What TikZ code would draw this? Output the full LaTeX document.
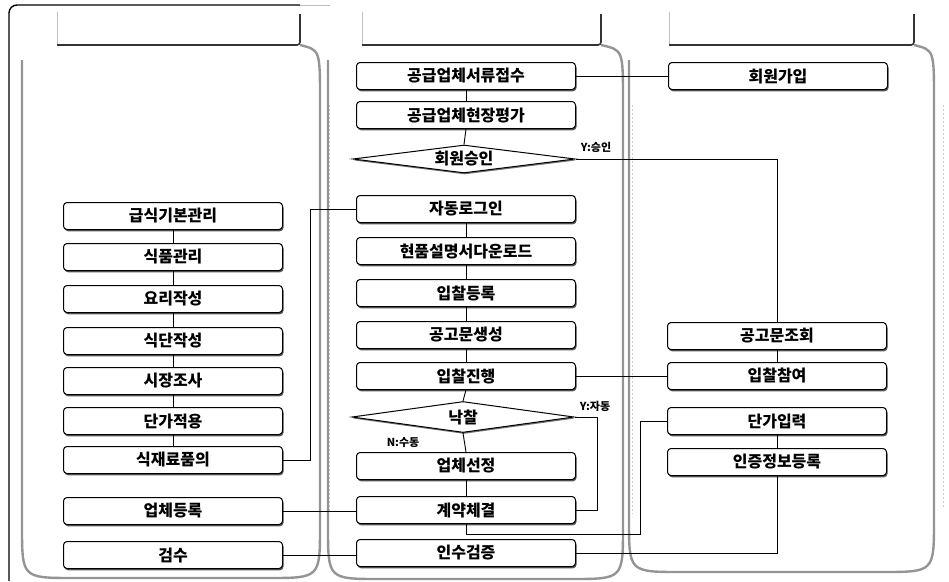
\documentclass[tikz,border=0pt]{standalone}
\usepackage{fontspec}
\setmainfont{Noto Sans CJK KR}
\usetikzlibrary{shapes.geometric,shadows}
\begin{document}
\begin{tikzpicture}[x=1pt,y=-1pt,
  box/.style={draw, line width=1pt, rounded corners=3.5pt, minimum width=219pt,
    minimum height=27pt, fill=white, inner sep=0pt,
    font=\fontsize{16}{17}\selectfont\bfseries,
    drop shadow={shadow xshift=1pt, shadow yshift=-1.8pt, fill=black!65, opacity=1}},
  dia/.style={diamond, draw, line width=1pt, fill=white, inner sep=0pt, aspect=8,
    minimum width=222pt, minimum height=28pt,
    font=\fontsize{16}{17}\selectfont\bfseries,
    drop shadow={shadow xshift=0.8pt, shadow yshift=-1.5pt, fill=black!55, opacity=1}},
  lbl/.style={font=\fontsize{11}{12}\selectfont\bfseries, inner sep=0pt},
  conn/.style={line width=0.9pt, black},
  lane/.style={draw=black!42, line width=2.4pt},
  laneinner/.style={draw=black!20, line width=0.5pt, dash pattern=on 2pt off 2pt},
  hdrfaint/.style={draw=black!25, line width=0.5pt},
  hdrdark/.style={draw=black!80, line width=1.6pt, rounded corners=3pt}
]
\useasboundingbox (0,0) rectangle (949,581);

% outer frame
\draw[line width=1.4pt, rounded corners=8pt] (300,5) -- (9,5) -- (9,581);
\draw[black!25, line width=0.6pt] (300,5) -- (330,5);

% lanes (left edge, right edge, bottom, header right)
\foreach \xl/\xr/\yb/\hr in {22/320/578/300, 328/623/579/601, 629/934/572/914}{
  \draw[lane] (\xl,60) -- (\xl,\yb-52) .. controls (\xl,\yb) .. (\xl+52,\yb)
     -- (\xr-52,\yb) .. controls (\xr,\yb) .. (\xr,\yb-52)
     -- (\xr,100) .. controls (\xr,50) .. (\hr,45);
  \draw[laneinner] (\xr+9,105) -- (\xr+9,\yb-65);
}

% headers
\foreach \xa/\xb in {57/300, 362/601, 669/914}{
  \fill[white] (\xa,12) rectangle (\xb,45);
  \draw[hdrfaint] (\xa,45) -- (\xa,12);
  \draw[hdrdark] (\xa,45) -- (\xb,45) -- (\xb,14);
}

% left column
\node[box] (L1) at (173,216) {급식기본관리};
\node[box] (L2) at (173,257) {식품관리};
\node[box] (L3) at (173,299) {요리작성};
\node[box] (L4) at (173,341) {식단작성};
\node[box] (L5) at (173,381) {시장조사};
\node[box] (L6) at (173,421) {단가적용};
\node[box] (L7) at (173,460) {식재료품의};
\node[box] (L8) at (173,511) {업체등록};
\node[box] (L9) at (173,555) {검수};

% middle column
\node[box] (S1) at (466,76) {공급업체서류접수};
\node[box] (S2) at (466,115) {공급업체현장평가};
\node[dia] (D1) at (464,159) {회원승인};
\node[box] (M1) at (466,209) {자동로그인};
\node[box] (M2) at (466,251) {현품설명서다운로드};
\node[box] (M3) at (466,293) {입찰등록};
\node[box] (M4) at (466,335) {공고문생성};
\node[box] (M5) at (466,376) {입찰진행};
\node[dia, minimum height=31pt] (D2) at (463,417) {낙찰};
\node[box] (M6) at (466,466) {업체선정};
\node[box] (M7) at (466,510) {계약체결};
\node[box] (M8) at (466,553) {인수검증};

% right column
\node[box] (R0) at (778,76) {회원가입};
\node[box] (R1) at (777,336) {공고문조회};
\node[box] (R2) at (777,376) {입찰참여};
\node[box] (R3) at (777,421) {단가입력};
\node[box] (R4) at (777,462) {인증정보등록};

% labels
\node[lbl] (YA) at (596,147) {Y:승인};
\node[lbl] (YB) at (595,406) {Y:자동};
\node[lbl] (NA) at (403,443) {N:수동};

% coordinates
\coordinate (c1) at (310,460);
\coordinate (c2) at (597,417);
\coordinate (c3) at (640,534);

% connectors
\draw[conn] (R0.west) -- (S1.east);
\draw[conn] (S1.south) -- (S2.north);
\draw[conn] (S2.south) -- (D1.north);
\draw[conn] (D1.east) -| (R1.north);
\foreach \a/\b in {L1/L2,L2/L3,L3/L4,L4/L5,L5/L6,L6/L7,M1/M2,M2/M3,M3/M4,M4/M5,M6/M7,R1/R2,R3/R4}{
  \draw[conn] (\a.south) -- (\b.north);
}
\draw[conn] (M5.south) -- (D2.north);
\draw[conn] (D2.south) -- (M6.north);
\draw[conn] (L7.east) -- (c1) |- (M1.west);
\draw[conn] (L8.east) -- (L8.east -| M7.west);
\draw[conn] (L9.east) -- (L9.east -| M8.west);
\draw[conn] (M5.east) -- (R2.west);
\draw[conn] (D2.east) -- (c2) |- (M7.east);
\draw[conn] (M7.south) |- (c3) |- (R3.west);
\draw[conn] (M8.east) -| (R4.south);
\end{tikzpicture}
\end{document}
